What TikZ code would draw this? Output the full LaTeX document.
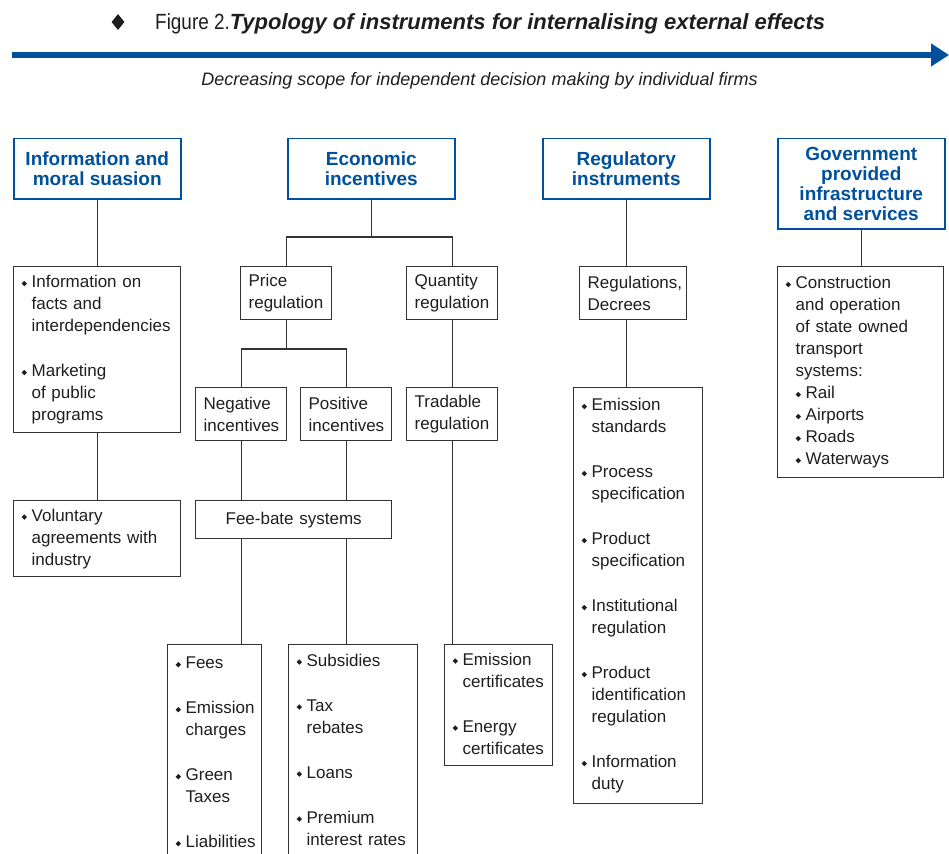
\documentclass[tikz,border=0pt]{standalone}
\usepackage{fontspec}
\setmainfont{Liberation Sans}
\newfontfamily\narrowf[FakeStretch=0.86]{Liberation Sans}
\usetikzlibrary{arrows.meta,shapes.geometric}
\definecolor{blueC}{RGB}{0,80,155}
\definecolor{lineC}{RGB}{51,51,51}
\definecolor{txtC}{RGB}{30,30,30}
\newcommand\bodyf{\fontsize{17}{22}\selectfont}
\newcommand\hdrf{\fontsize{19}{20}\selectfont\bfseries}
\newcommand\bl{\makebox[10pt][l]{\raisebox{1.3pt}{\rotatebox{45}{\rule{3.8pt}{3.8pt}}}}}
\begin{document}
\begin{tikzpicture}[x=1pt,y=-1pt,
  hdr/.style={draw=blueC, line width=1.5pt, text=blueC, font=\hdrf, align=center,
    anchor=north west, minimum width=167pt, inner sep=0pt},
  bx/.style={draw=lineC, line width=1.3pt, font=\bodyf, text=txtC, anchor=north west,
    inner xsep=8pt, inner ysep=0pt, align=left},
  conn/.style={draw=lineC, line width=1.3pt}]
\useasboundingbox (0,0) rectangle (949,853);
\clip (0,0) rectangle (949,853);

% title
\node[diamond, fill=txtC, inner sep=0pt, minimum width=13pt, minimum height=16pt] (dia) at (118,22) {};
\node[anchor=base west, inner sep=0pt, text=txtC] (title) at (155,30)
  {{\narrowf\fontsize{22}{26}\selectfont Figure 2.}{\fontsize{22}{26}\selectfont\bfseries\itshape Typology of instruments for internalising external effects}};
\coordinate (as) at (12,55);
\coordinate (ae) at (949,55);
\draw[line width=5.5pt, blueC, -{Triangle[length=18pt, width=22pt]}] (as) -- (ae);
\node[anchor=base, inner sep=0pt, text=txtC] (sub) at (479.5,86)
  {\fontsize{18}{22}\selectfont\itshape Decreasing scope for independent decision making by individual firms};

% headers
\node[hdr, minimum height=60pt] (h1) at (13,138) {Information and\\moral suasion};
\node[hdr, minimum height=60pt] (h2) at (287,138) {Economic\\incentives};
\node[hdr, minimum height=60pt] (h3) at (542,138) {Regulatory\\instruments};
\node[hdr, minimum height=90pt] (h4) at (777,138) {Government\\provided\\infrastructure\\and services};

% column 1
\node[bx, text width=151pt, minimum height=166pt] (info) at (13,266)
  {\begin{tabular}{@{}l@{}l@{}}\bl&Information on\\&facts and\\&interdependencies\\[23pt]\bl&Marketing\\&of public\\&programs\end{tabular}};
\node[bx, text width=151pt, minimum height=76pt] (vol) at (13,500)
  {\begin{tabular}{@{}l@{}l@{}}\bl&Voluntary\\&agreements with\\&industry\end{tabular}};

% column 2
\node[bx, text width=75pt, minimum height=53pt] (price) at (240,266) {Price\\regulation};
\node[bx, text width=75pt, minimum height=53pt] (quant) at (406,266) {Quantity\\regulation};
\node[bx, text width=75pt, minimum height=53pt] (neg) at (195,387) {Negative\\incentives};
\node[bx, text width=75pt, minimum height=53pt] (pos) at (300,387) {Positive\\incentives};
\node[bx, text width=75pt, minimum height=53pt] (trad) at (406,387) {Tradable\\regulation};
\node[bx, text width=180pt, minimum height=38pt, align=center] (fee) at (195,500) {Fee-bate systems};
\node[bx, text width=78pt, inner ysep=8.6pt] (fees) at (167,644)
  {\begin{tabular}{@{}l@{}l@{}}\bl&Fees\\[23pt]\bl&Emission\\&charges\\[23pt]\bl&Green\\&Taxes\\[23pt]\bl&Liabilities\\[40pt]\end{tabular}};
\node[bx, text width=113pt, inner ysep=6pt] (subs) at (288,644)
  {\begin{tabular}{@{}l@{}l@{}}\bl&Subsidies\\[23pt]\bl&Tax\\&rebates\\[23pt]\bl&Loans\\[23pt]\bl&Premium\\&interest rates\\[40pt]\end{tabular}};
\node[bx, text width=92pt, minimum height=121pt] (emc) at (444,644)
  {\begin{tabular}{@{}l@{}l@{}}\bl&Emission\\&certificates\\[23pt]\bl&Energy\\&certificates\end{tabular}};

% column 3
\node[bx, text width=91pt, minimum height=53pt] (regs) at (579,266) {Regulations,\\Decrees};
\node[bx, text width=113pt, minimum height=416pt] (reglist) at (573,387)
  {\begin{tabular}{@{}l@{}l@{}}\bl&Emission\\&standards\\[23pt]\bl&Process\\&specification\\[23pt]\bl&Product\\&specification\\[23pt]\bl&Institutional\\&regulation\\[23pt]\bl&Product\\&identification\\&regulation\\[23pt]\bl&Information\\&duty\end{tabular}};

% column 4
\node[bx, text width=150pt, minimum height=211pt] (gov) at (777,266)
  {\begin{tabular}{@{}l@{}l@{}}\bl&Construction\\&and operation\\&of state owned\\&transport\\&systems:\\&\bl Rail\\&\bl Airports\\&\bl Roads\\&\bl Waterways\end{tabular}};

% connectors
\draw[conn] (h1.south) -- (h1.south |- info.north);
\draw[conn] (info.south) -- (vol.north);
\coordinate (j1) at (370.5,237);
\draw[conn] (h2.south) -- (h2.south |- j1);
\draw[conn] (price.north) |- (j1) -| (quant.north);
\coordinate (j2) at (285.5,349);
\draw[conn] (price.south) -- (price.south |- j2);
\draw[conn] (neg.north) |- (j2) -| (pos.north);
\draw[conn] (neg.south) -- (neg.south |- fee.north);
\draw[conn] (pos.south) -- (pos.south |- fee.north);
\draw[conn] (neg.south |- fee.south) -- (neg.south |- fees.north);
\draw[conn] (pos.south |- fee.south) -- (pos.south |- subs.north);
\draw[conn] (quant.south) -- (trad.north);
\draw[conn] (trad.south) -- (trad.south |- emc.north);
\draw[conn] (h3.south) -- (h3.south |- regs.north);
\draw[conn] (h3.south |- regs.south) -- (h3.south |- reglist.north);
\draw[conn] (h4.south) -- (h4.south |- gov.north);
\end{tikzpicture}
\end{document}
